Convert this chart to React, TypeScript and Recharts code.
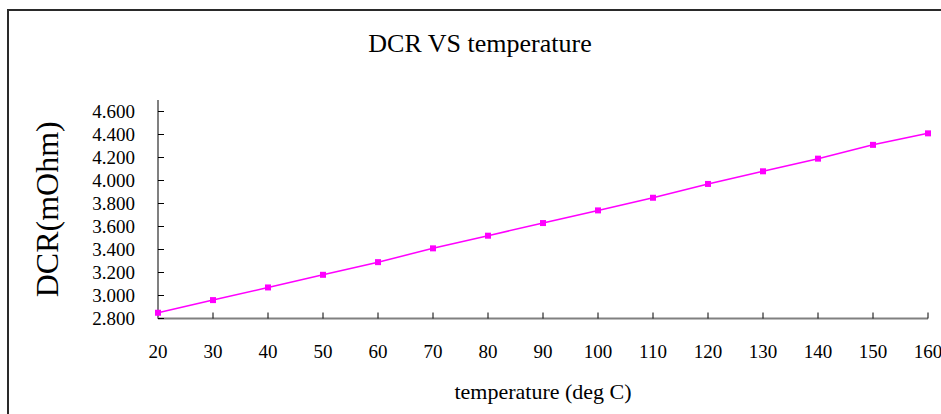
import { LineChart, Line, XAxis, YAxis } from 'recharts';

const temperatures = [20, 30, 40, 50, 60, 70, 80, 90, 100, 110, 120, 130, 140, 150, 160];
const dcrValues = [2.85, 2.96, 3.07, 3.18, 3.29, 3.41, 3.52, 3.63, 3.74, 3.85, 3.97, 4.08, 4.19, 4.31, 4.41];
const yTicks = [2.8, 3.0, 3.2, 3.4, 3.6, 3.8, 4.0, 4.2, 4.4, 4.6];

const data = temperatures.map((t, i) => ({ temp: t, dcr: dcrValues[i] }));

const FONT = "'Times New Roman', 'Liberation Serif', serif";
const MAGENTA = '#ff00ff';

function SquareDot(props: any) {
  const { cx, cy, index } = props;
  if (cx == null || cy == null) return <g key={index} />;
  return <rect key={index} x={cx - 3} y={cy - 3} width={6} height={6} fill={MAGENTA} />;
}

export default function App() {
  return (
    <div
      style={{
        position: 'absolute',
        left: 0,
        top: 0,
        width: 941,
        height: 414,
        overflow: 'hidden',
        background: '#fff',
        fontFamily: FONT,
      }}
    >
      <div
        style={{
          position: 'absolute',
          left: 7,
          top: 9,
          width: 960,
          height: 430,
          borderTop: '2px solid #2a2a2a',
          borderLeft: '2px solid #2a2a2a',
        }}
      />
      <div
        style={{
          position: 'absolute',
          left: 280,
          top: 31,
          width: 400,
          textAlign: 'center',
          fontSize: 26,
          lineHeight: '26px',
          color: '#000',
        }}
      >
        DCR VS temperature
      </div>
      <LineChart
        width={941}
        height={414}
        data={data}
        margin={{ top: 100, right: 13, bottom: 65.5, left: 0 }}
        style={{ position: 'absolute', left: 0, top: 0 }}
      >
        <XAxis
          dataKey="temp"
          type="number"
          domain={[20, 160]}
          ticks={temperatures}
          interval={0}
          height={30}
          tickSize={-6}
          tickMargin={32}
          axisLine={{ stroke: '#808080', strokeWidth: 2 }}
          tickLine={{ stroke: '#000' }}
          tick={{ fill: '#000', fontSize: 19, fontFamily: FONT }}
          label={{
            value: 'temperature (deg C)',
            position: 'bottom',
            offset: 35,
            fill: '#000',
            fontSize: 22,
            fontFamily: FONT,
          }}
        />
        <YAxis
          type="number"
          domain={[2.8, 4.7]}
          ticks={yTicks}
          interval={0}
          width={158}
          tickSize={-6}
          tickMargin={29}
          tickFormatter={(v: number) => v.toFixed(3)}
          axisLine={{ stroke: '#808080', strokeWidth: 2 }}
          tickLine={{ stroke: '#000' }}
          tick={{ fill: '#000', fontSize: 19, fontFamily: FONT }}
          label={{
            value: 'DCR(mOhm)',
            angle: -90,
            position: 'insideLeft',
            offset: 47,
            fill: '#000',
            fontSize: 32,
            fontFamily: FONT,
            style: { textAnchor: 'middle' },
          }}
        />
        <Line
          type="linear"
          dataKey="dcr"
          stroke={MAGENTA}
          strokeWidth={1.5}
          dot={SquareDot}
          activeDot={false}
          isAnimationActive={false}
        />
      </LineChart>
    </div>
  );
}
